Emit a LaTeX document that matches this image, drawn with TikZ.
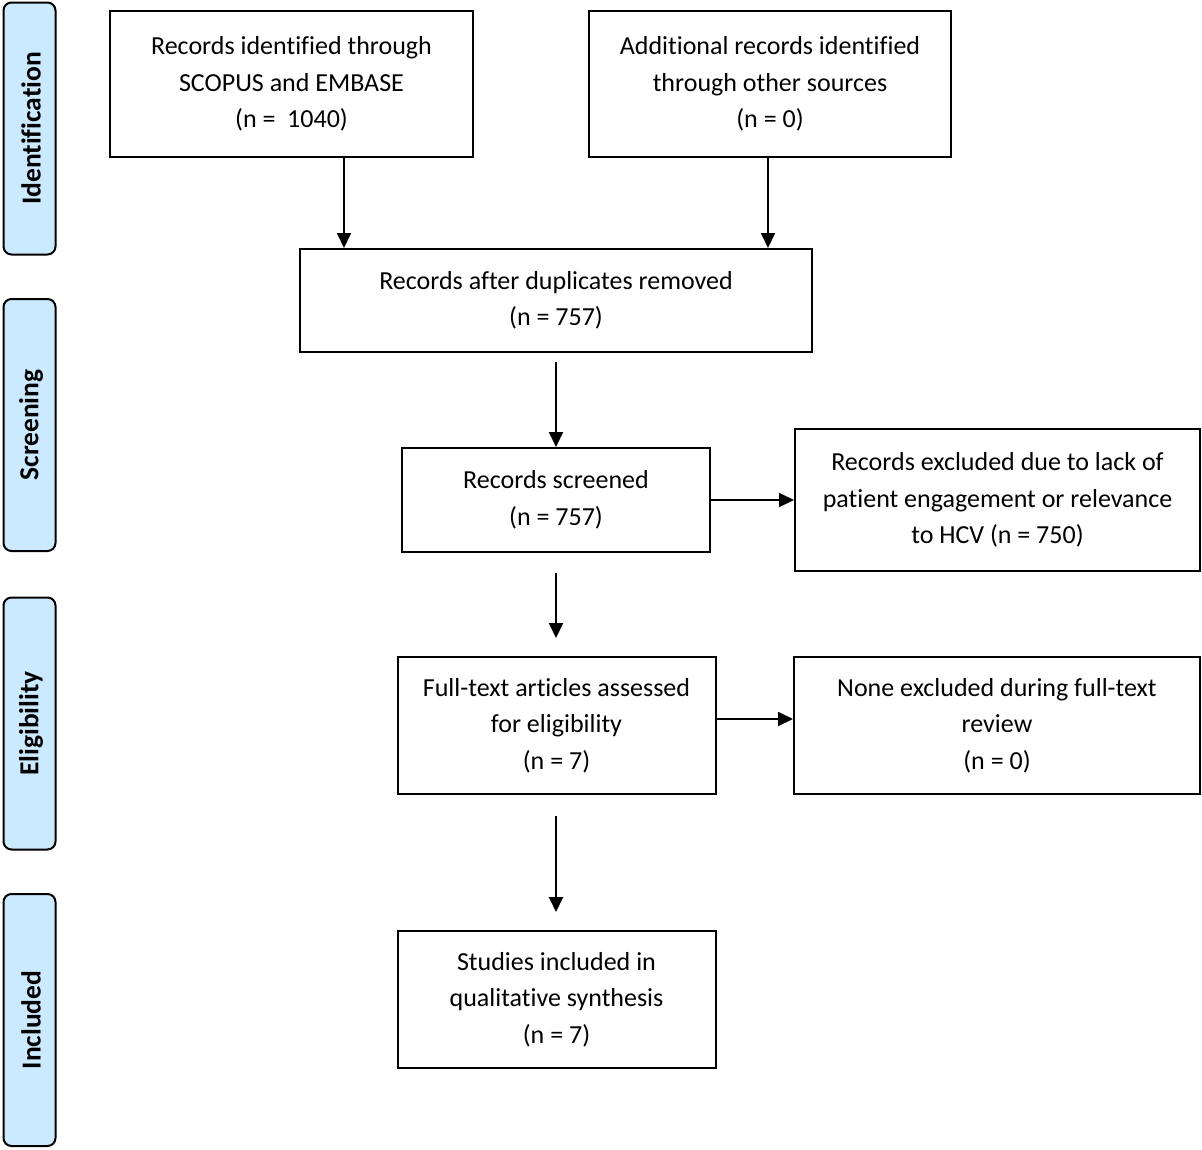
\documentclass[tikz,border=0pt]{standalone}
\usepackage{fontspec}
\setmainfont{Carlito}[Ligatures=NoCommon]
\usetikzlibrary{arrows.meta}
\definecolor{barblue}{RGB}{204,234,255}
\tikzset{
  box/.style={draw=black, line width=2pt, fill=white, align=center, inner sep=0pt,
    font=\fontsize{26}{36.5}\selectfont},
  bar/.style={draw=black, line width=2pt, fill=barblue, rounded corners=8pt,
    minimum width=52pt, minimum height=252pt, inner sep=0pt},
  barlabel/.style={rotate=90, font=\fontsize{27.5}{30}\selectfont\bfseries},
  arr/.style={line width=1.9pt, -{Triangle[length=15pt,width=14pt]}},
}
\begin{document}
\begin{tikzpicture}[x=1pt,y=-1pt]
\useasboundingbox (0,0) rectangle (1202,1149);
% phase bars
\node[bar] (pid) at (29.5,128.5) {};
\node[barlabel] (lid) at (31,128.5) {Identification};
\node[bar] (psc) at (29.5,425) {};
\node[barlabel] (lsc) at (31,425) {Screening};
\node[bar] (pel) at (29.5,723.5) {};
\node[barlabel] (lel) at (31,723.5) {Eligibility};
\node[bar] (pin) at (29.5,1020) {};
\node[barlabel] (lin) at (31,1020) {Included};
% boxes
\node[box, minimum width=363pt, minimum height=146pt] (b1) at (291.5,84)
  {Records identified through\\SCOPUS and EMBASE\\(n = \ 1040)};
\node[box, minimum width=362pt, minimum height=146pt] (b2) at (770,84)
  {Additional records identified\\through other sources\\(n = 0)};
\node[box, minimum width=512pt, minimum height=103pt] (b3) at (556,300.5)
  {Records after duplicates removed\\(n = 757)};
\node[box, minimum width=308pt, minimum height=104pt] (b4) at (556,500)
  {Records screened\\(n = 757)};
\node[box, minimum width=405pt, minimum height=142pt] (b5) at (997.5,500)
  {Records excluded due to lack of\\patient engagement or relevance\\to HCV (n = 750)};
\node[box, minimum width=318pt, minimum height=137pt] (b6) at (556.5,725.5)
  {Full-text articles assessed\\for eligibility\\(n = 7)};
\node[box, minimum width=406pt, minimum height=137pt] (b7) at (997,725.5)
  {None excluded during full-text\\review\\(n = 0)};
\node[box, minimum width=318pt, minimum height=137pt] (b8) at (556.5,999.5)
  {Studies included in\\qualitative synthesis\\(n = 7)};
% connectors
\draw[arr] ([xshift=52.5pt]b1.south) -- ([xshift=-212pt]b3.north);
\draw[arr] ([xshift=-2pt]b2.south) -- ([xshift=212pt]b3.north);
\draw[arr] ([yshift=-9pt]b3.south) -- (b4.north);
\draw[arr] ([yshift=-20pt]b4.south) -- ([yshift=18pt]b4.south |- b6.north);
\draw[arr] ([yshift=-21pt]b4.south |- b6.south) -- ([yshift=18pt]b4.south |- b8.north);
\draw[arr] (b4.east) -- (b5.west);
\draw[arr] ([yshift=6.5pt]b6.east) -- ([yshift=6.5pt]b7.west);
\end{tikzpicture}
\end{document}
